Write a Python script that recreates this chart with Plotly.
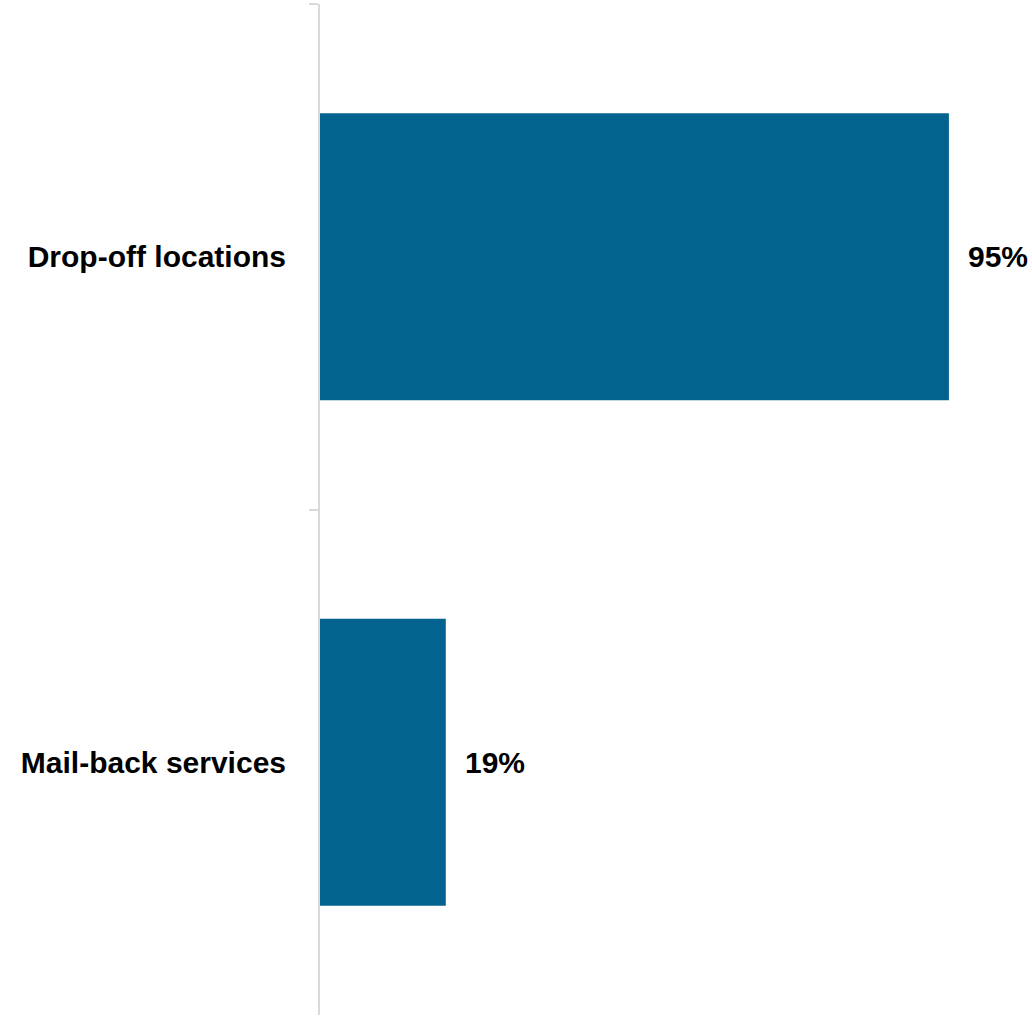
import plotly.graph_objects as go

categories = ["Drop-off locations", "Mail-back services"]
values = [95, 19]
labels = ["95%", "19%"]

BAR_COLOR = "#03638F"
AXIS_COLOR = "#D9D9D9"
FONT = "Liberation Sans, Arial, sans-serif"

fig = go.Figure()
fig.add_trace(go.Bar(
    y=categories, x=values, orientation="h",
    marker=dict(color=BAR_COLOR, line=dict(width=0)),
    hoverinfo="skip",
))

for c, v, t in zip(categories, values, labels):
    fig.add_annotation(x=v, y=c, text=f"<b>{t}</b>", showarrow=False,
                       xanchor="left", xshift=17,
                       font=dict(family=FONT, size=30, color="black"))

fig.update_layout(
    width=1032, height=1018,
    margin=dict(l=320, r=50, t=4, b=3),
    paper_bgcolor="white", plot_bgcolor="white",
    bargap=0.432,
    showlegend=False,
    xaxis=dict(range=[0, 100], visible=False, fixedrange=True),
    yaxis=dict(
        categoryorder="array", categoryarray=categories, autorange="reversed",
        showline=True, linecolor=AXIS_COLOR, linewidth=2,
        ticks="outside", tickson="boundaries", ticklen=9, tickcolor=AXIS_COLOR, tickwidth=2,
        tickfont=dict(family=FONT, size=30, color="black"),
        ticklabelstandoff=26,
        showgrid=False, zeroline=False, fixedrange=True,
        tickprefix="<b>", ticksuffix="</b>",
    ),
)

fig.write_html("out.html", config={"displayModeBar": False},
               post_script="document.body.style.margin='0';document.body.style.padding='0';")
